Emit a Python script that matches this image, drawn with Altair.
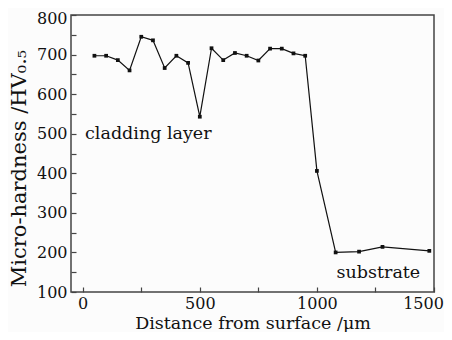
import altair as alt
import pandas as pd

distance = [50, 100, 150, 200, 250, 300, 350, 400, 450, 500, 550, 600, 650, 700,
            750, 800, 850, 900, 950, 1000, 1080, 1180, 1280, 1480]
hardness = [697, 697, 686, 660, 745, 736, 666, 697, 679, 543, 716, 686, 704, 697,
            685, 715, 715, 703, 697, 406, 200, 202, 214, 204]

x_ticks = [0, 250, 500, 750, 1000, 1250, 1500]
y_ticks = [100, 150, 200, 250, 300, 350, 400, 450, 500, 550, 600, 650, 700, 750, 800]

notes = ["cladding layer", "substrate"]
note_x = [10, 1084]
note_y = [500, 148]

df = pd.DataFrame({"d": distance, "h": hardness})
ndf = pd.DataFrame({"t": notes, "x": note_x, "y": note_y})

FONT = "DejaVu Serif"
LFS = 16

xs = alt.Scale(domain=[-50, 1500], nice=False, zero=False)
ys = alt.Scale(domain=[100, 800], nice=False, zero=False)

xaxis = alt.Axis(values=x_ticks, format="d",
                 labelExpr="datum.value % 500 == 0 ? datum.label : ''",
                 labelOffset={"condition": {"test": "datum.value === 1500", "value": -11}, "value": 0},
                 title="Distance from surface /μm", domain=False, tickSize=5, offset=-5,
                 tickColor="#444", tickWidth=1.2, labelPadding=3, grid=False,
                 labelOverlap=False, labelFlush=False, labelBound=False,
                 labelFont=FONT, labelFontSize=LFS, labelColor="#111",
                 titleFont=FONT, titleFontSize=17.5, titleColor="#111", titleFontWeight="normal",
                 titlePadding=3)
yaxis = alt.Axis(values=y_ticks, format="d",
                 labelExpr="datum.value % 100 == 0 ? datum.label : ''",
                 labelOffset={"condition": {"test": "datum.value === 800", "value": 3}, "value": 0},
                 title="Micro-hardness /HV₀.₅", domain=False, tickSize=5, offset=-5,
                 tickColor="#444", tickWidth=1.2, labelPadding=4, grid=False,
                 labelOverlap=False, labelFlush=False, labelBound=False,
                 labelFont=FONT, labelFontSize=LFS, labelColor="#111",
                 titleFont=FONT, titleFontSize=21, titleColor="#111", titleFontWeight="normal",
                 titleX=-57, titleY=153, titleBaseline="middle", titleAlign="center")

base = alt.Chart(df)
line = base.mark_line(color="#111", strokeWidth=1.2).encode(
    x=alt.X("d:Q", scale=xs, axis=xaxis),
    y=alt.Y("h:Q", scale=ys, axis=yaxis),
)
pts = base.mark_point(shape="square", filled=True, color="#111", size=14, opacity=1).encode(
    x=alt.X("d:Q", scale=xs, axis=xaxis),
    y=alt.Y("h:Q", scale=ys, axis=yaxis),
)
txt = alt.Chart(ndf).mark_text(align="left", baseline="middle", font=FONT, fontSize=17.5,
                               color="#111").encode(
    x=alt.X("x:Q", scale=xs, axis=xaxis),
    y=alt.Y("y:Q", scale=ys, axis=yaxis),
    text="t:N",
)

chart = alt.layer(line, pts, txt).properties(
    width=363, height=277,
    autosize=alt.AutoSizeParams(type="none"),
    padding={"left": 63, "top": 7, "right": 10, "bottom": 40},
    background="#fcfcfc",
).configure_view(stroke="#444", strokeWidth=1.5).configure_axis(labelOverlap=False)

chart.save("out.html", embed_options={"renderer": "svg", "actions": False})
